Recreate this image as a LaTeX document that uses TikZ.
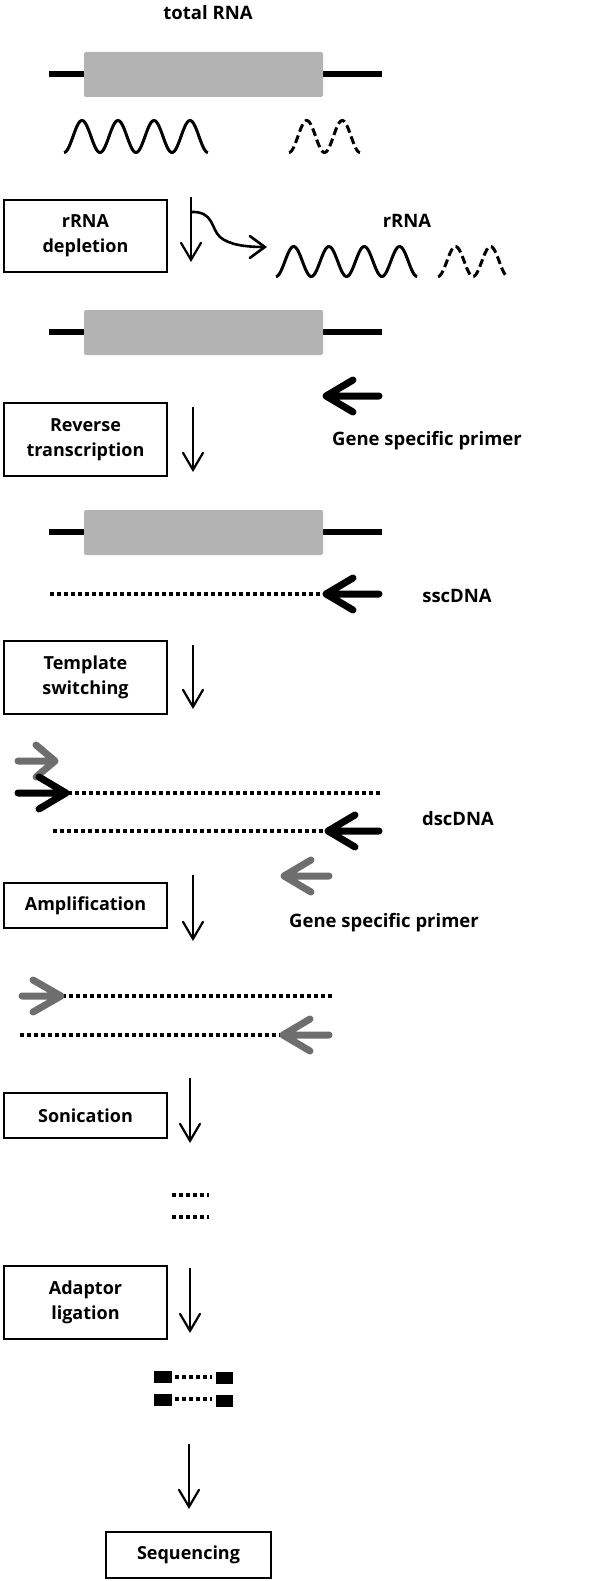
\documentclass[tikz,border=0pt]{standalone}
\usepackage{fontspec}
\setmainfont{Open Sans}
\usetikzlibrary{arrows.meta}
\definecolor{boxgray}{HTML}{B3B3B3}
\definecolor{arrgray}{HTML}{6E6E6E}
\tikzset{
  stepbox/.style={draw, line width=2.5pt, align=center, inner sep=0pt,
    font=\bfseries\fontsize{18}{25}\selectfont},
  lbl/.style={font=\bfseries\fontsize{18.5}{25}\selectfont, inner sep=0pt},
  down/.style={line width=2.2pt, -{Straight Barb[length=17pt,width=20pt,line cap=round]}},
  side/.style={line width=2.6pt, -{Straight Barb[length=15pt,width=22pt,line cap=round]}},
  geneline/.style={line width=6pt},
  genebox/.style={fill=boxgray, rounded corners=2pt},
  wave/.style={line width=3pt},
  dwave/.style={wave, dash pattern=on 8pt off 4pt},
  dna/.style={line width=3.5pt, dash pattern=on 3.5pt off 3.5pt},
  parrow/.style={line width=7pt, line cap=round, line join=round},
  adaptor/.style={fill=black},
}
% colour, tail x, tip x, y, arm dx
\newcommand\primarrow[5]{%
  \draw[parrow, #1] (#2,#4) -- (#3,#4) (#3+#5,#4-16) -- (#3,#4) -- (#3+#5,#4+16);}
\newcommand\gene[1]{%
  \draw[geneline] (49,#1) -- (382,#1);
  \fill[genebox] (84,#1-22) rectangle (323,#1+23);}
\begin{document}
\begin{tikzpicture}[x=1pt, y=-1pt]
\useasboundingbox (0,0) rectangle (600,1581);

% ---- total RNA
\node[lbl] (total) at (208,13) {total RNA};
\gene{74}
\draw[wave] plot[domain=0:4, samples=120, smooth] ({64+36*\x},{136.5+16*cos(360*\x)});
\draw[dwave] plot[domain=0:2, samples=60, smooth] ({289+35.5*\x},{136.5+16*cos(360*\x)});

% ---- rRNA depletion
\node[stepbox, minimum width=163pt, minimum height=72pt] (s1) at (85.5,236) {rRNA\\depletion};
\coordinate (a1s) at (191,197);
\coordinate (a1e) at (191,262);
\coordinate (a1b) at (191,212);
\coordinate (a1r) at (267,247);
\draw[down] (a1s) -- (a1e);
\draw[side] (a1b) .. controls (214,211) and (211,229) .. (220,237)
  .. controls (229,245) and (247,247) .. (a1r);
\node[lbl] (rrna) at (407,221) {rRNA};
\draw[wave] plot[domain=0:4, samples=120, smooth] ({276+35.3*\x},{261.5+15*cos(360*\x)});
\draw[dwave] plot[domain=0:2, samples=60, smooth] ({438+35*\x},{261.5+15*cos(360*\x)});

% ---- after depletion
\gene{332}
\primarrow{black}{379}{326}{396}{27}
\node[lbl] (gsp1) at (427,441) {Gene specific primer};

% ---- reverse transcription
\node[stepbox, minimum width=163pt, minimum height=73pt] (s2) at (85.5,439.5) {Reverse\\transcription};
\coordinate (a2s) at (193,407);
\coordinate (a2e) at (193,472);
\draw[down] (a2s) -- (a2e);

\gene{532}
\draw[dna] (50,594) -- (326,594);
\primarrow{black}{379}{326}{594}{27}
\node[lbl] (ss) at (457,596) {sscDNA};

% ---- template switching
\node[stepbox, minimum width=163pt, minimum height=73pt] (s3) at (85.5,677.5) {Template\\switching};
\coordinate (a3s) at (193,645);
\coordinate (a3e) at (193,709);
\draw[down] (a3s) -- (a3e);

\primarrow{arrgray}{18}{55}{761}{-19}
\draw[dna] (68,793) -- (382,793);
\primarrow{black}{18}{66}{793}{-27}
\draw[dna] (53,831) -- (328,831);
\primarrow{black}{379}{328}{831}{27}
\node[lbl] (ds) at (458,819) {dscDNA};
\primarrow{arrgray}{329}{284}{876}{27}

% ---- amplification
\node[stepbox, minimum width=163pt, minimum height=45pt] (s4) at (85.5,905.5) {Amplification};
\coordinate (a4s) at (193,875);
\coordinate (a4e) at (193,941);
\draw[down] (a4s) -- (a4e);
\node[lbl] (gsp2) at (384,923) {Gene specific primer};

\draw[dna] (62,996) -- (332,996);
\primarrow{arrgray}{22}{61}{996}{-28}
\draw[dna] (20,1035) -- (283,1035);
\primarrow{arrgray}{329}{283}{1035}{27}

% ---- sonication
\node[stepbox, minimum width=163pt, minimum height=45pt] (s5) at (85.5,1115.5) {Sonication};
\coordinate (a5s) at (190,1078);
\coordinate (a5e) at (190,1143);
\draw[down] (a5s) -- (a5e);
\draw[dna] (172,1195) -- (209,1195);
\draw[dna] (172,1217) -- (209,1217);

% ---- adaptor ligation
\node[stepbox, minimum width=163pt, minimum height=73pt] (s6) at (85.5,1302.5) {Adaptor\\ligation};
\coordinate (a6s) at (190,1268);
\coordinate (a6e) at (190,1333);
\draw[down] (a6s) -- (a6e);
\fill[adaptor] (154,1371) rectangle (172,1383);
\fill[adaptor] (216,1372) rectangle (233,1384);
\draw[dna] (175,1377) -- (212,1377);
\fill[adaptor] (154,1394) rectangle (172,1406);
\fill[adaptor] (216,1395) rectangle (233,1407);
\draw[dna] (175,1399) -- (212,1399);

\coordinate (a7s) at (189,1444);
\coordinate (a7e) at (189,1509);
\draw[down] (a7s) -- (a7e);

% ---- sequencing
\node[stepbox, minimum width=165pt, minimum height=46pt] (s7) at (188.5,1555) {Sequencing};
\end{tikzpicture}
\end{document}
